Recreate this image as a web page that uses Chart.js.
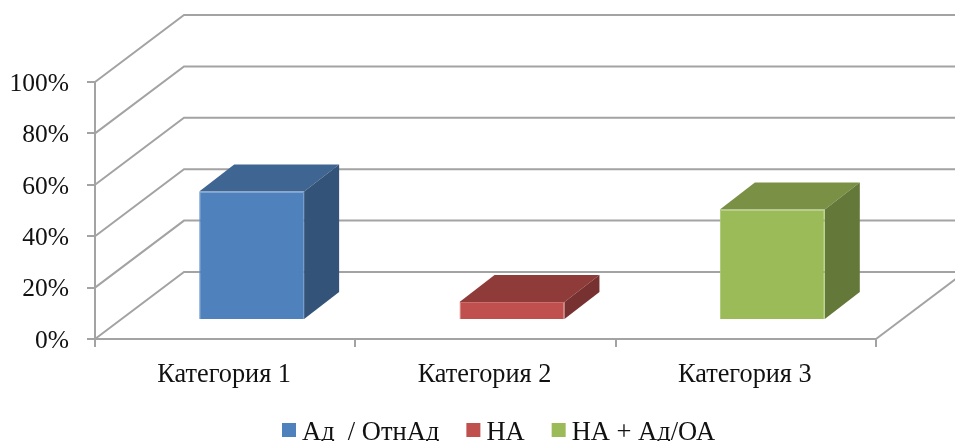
<!DOCTYPE html>
<html>
<head>
<meta charset="utf-8">
<style>
  html, body { margin: 0; padding: 0; background: #fff; overflow: hidden; }
  canvas { display: block; }
</style>
<script src="https://cdn.jsdelivr.net/npm/chart.js@4"></script>
</head>
<body>
<canvas id="chart" width="955" height="441"></canvas>
<script>
const categories = ["Категория 1", "Категория 2", "Категория 3"];
const seriesNames = ["Ад  / ОтнАд", "НА", "НА + Ад/ОА"];
const adValues = [50, null, null];
const naValues = [null, 7, null];
const naAdValues = [null, null, 43];
const yTicks = [0, 20, 40, 60, 80, 100];

const frontColors = ["#4f81bd", "#c0504d", "#9bbb59"];
const edgeColors = ["#6a95c9", "#cc6f6c", "#a9c86e"];
const topColors = ["#3f6592", "#8f3b39", "#7a9145"];
const sideColors = ["#345378", "#773130", "#64783a"];

const lineColor = "#a3a3a3";
const fontName = "'Liberation Serif', serif";
const wall = { dx: 89, dy: -67 };
const shift = { dx: 26.5, dy: -19 };
const depth = { dx: 35, dy: -27 };

function poly(ctx, pts, fill) {
  ctx.beginPath();
  pts.forEach((p, i) => (i ? ctx.lineTo(p[0], p[1]) : ctx.moveTo(p[0], p[1])));
  ctx.closePath();
  ctx.fillStyle = fill;
  ctx.fill();
}

const fake3d = {
  id: "fake3d",
  beforeDatasetsDraw(chart) {
    const { ctx, chartArea, scales, width } = chart;
    const x0 = chartArea.left;
    ctx.save();
    ctx.strokeStyle = lineColor;
    ctx.lineWidth = 2;

    // back wall and left wall lines
    yTicks.forEach((v) => {
      const y = scales.y.getPixelForValue(v);
      ctx.beginPath();
      ctx.moveTo(x0, y);
      ctx.lineTo(x0 + wall.dx, y + wall.dy);
      ctx.lineTo(width, y + wall.dy);
      ctx.stroke();
    });

    // right floor edge
    ctx.beginPath();
    ctx.moveTo(chartArea.right, chartArea.bottom);
    ctx.lineTo(chartArea.right + wall.dx, chartArea.bottom + wall.dy);
    ctx.stroke();
    ctx.restore();

    // the bars sit a bit inside the floor
    ctx.save();
    ctx.translate(shift.dx, shift.dy);
    chart.data.datasets.forEach((ds, i) => {
      chart.getDatasetMeta(i).data.forEach((bar, j) => {
        if (ds.data[j] == null) return;
        const l = bar.x - bar.width / 2;
        const r = bar.x + bar.width / 2;
        poly(ctx, [[l, bar.y], [r, bar.y], [r + depth.dx, bar.y + depth.dy], [l + depth.dx, bar.y + depth.dy]], topColors[i]);
        poly(ctx, [[r, bar.y], [r + depth.dx, bar.y + depth.dy], [r + depth.dx, bar.base + depth.dy], [r, bar.base]], sideColors[i]);
      });
    });
  },
  afterDatasetsDraw(chart) {
    chart.ctx.restore();

    // legend
    const ctx = chart.ctx;
    ctx.save();
    ctx.font = "26.5px " + fontName;
    ctx.textBaseline = "alphabetic";
    let x = 282;
    chart.data.datasets.forEach((ds, i) => {
      ctx.fillStyle = frontColors[i];
      ctx.fillRect(x, 423, 14, 14);
      ctx.fillStyle = "#111";
      ctx.fillText(ds.label, x + 20, 440);
      x += 20 + ctx.measureText(ds.label).width + 27;
    });
    ctx.restore();
  },
};

new Chart(document.getElementById("chart"), {
  type: "bar",
  data: {
    labels: categories,
    datasets: [adValues, naValues, naAdValues].map((values, i) => ({
      label: seriesNames[i],
      data: values,
      backgroundColor: frontColors[i],
      borderColor: edgeColors[i],
      borderWidth: 1,
      clip: false,
    })),
  },
  plugins: [fake3d],
  options: {
    responsive: false,
    animation: false,
    categoryPercentage: 1,
    barPercentage: 0.403,
    layout: { padding: { top: 82, right: 79, left: 0, bottom: 0 } },
    plugins: { legend: { display: false }, tooltip: { enabled: false } },
    scales: {
      x: {
        stacked: true,
        afterFit: (scale) => { scale.height = 102; },
        grid: { offset: true, drawOnChartArea: false, color: lineColor, lineWidth: 2, tickLength: 8 },
        border: { color: lineColor, width: 2 },
        ticks: { color: "#111", font: { family: fontName, size: 26.3 }, padding: 12, maxRotation: 0, labelOffset: -1 },
      },
      y: {
        stacked: true,
        min: 0,
        max: 100,
        afterFit: (scale) => { scale.width = 95; },
        afterBuildTicks: (scale) => { scale.ticks = yTicks.map((value) => ({ value })); },
        grid: { drawOnChartArea: false, color: lineColor, lineWidth: 2, tickLength: 8 },
        border: { color: lineColor, width: 2 },
        ticks: { color: "#111", font: { family: fontName, size: 25.5 }, padding: 18, labelOffset: 2, callback: (v) => v + "%" },
      },
    },
  },
});
</script>
</body>
</html>
